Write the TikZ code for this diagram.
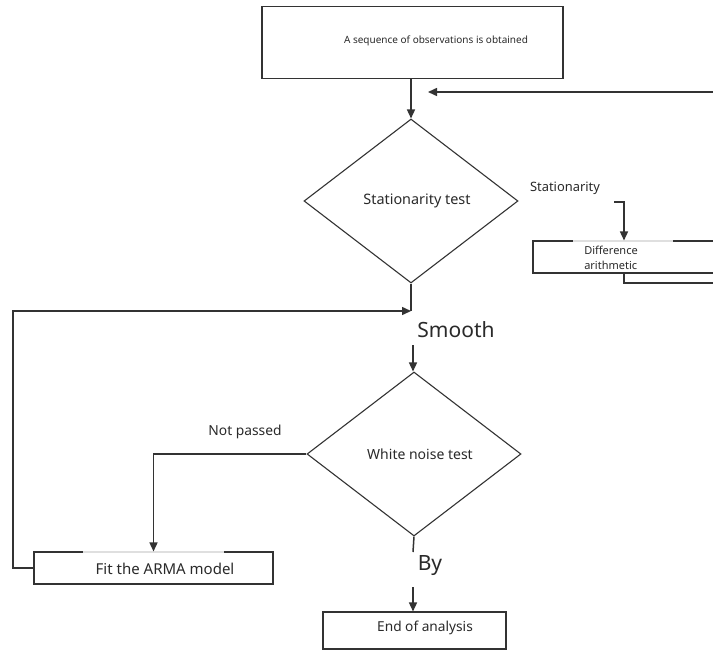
\documentclass[tikz,border=0pt]{standalone}
\usepackage{fontspec}
\setmainfont{Noto Sans}
\usetikzlibrary{arrows.meta,shapes.geometric}
\definecolor{ln}{HTML}{333333}
\definecolor{tx}{HTML}{2A2A2A}
\begin{document}
\begin{tikzpicture}[x=1pt,y=-1pt,
  box/.style={draw=ln,line width=1.1pt,rectangle,inner sep=0pt},
  dia/.style={draw=ln,line width=1.1pt,diamond,inner sep=0pt,minimum width=214pt,minimum height=164pt,text=tx},
  txt/.style={inner sep=0pt,text=tx},
  arr/.style={draw=ln,line width=1.5pt,-{Triangle[length=9pt,width=8pt]}},
  ln/.style={draw=ln,line width=1.5pt},
  faint/.style={draw=gray!25,line width=1.3pt}]
\useasboundingbox (0,0) rectangle (713,651);
\fill[white] (0,0) rectangle (713,651);

% nodes
\node[box,minimum width=301pt,minimum height=72pt] (top) at (412.5,42.5) {};
\node[txt,font=\fontsize{10}{12}\selectfont] (toptxt) at (436,41) {A sequence of observations is obtained};

\node[dia,font=\fontsize{14.4}{16}\selectfont] (d1) at (411,201) {\hspace*{12pt}Stationarity test};
\node[dia,font=\fontsize{14}{16}\selectfont] (d2) at (414,454) {\hspace*{12pt}White noise test};

\node[box,minimum width=182pt,minimum height=32pt] (diff) at (624,257) {};
\node[txt,font=\fontsize{11}{15.5}\selectfont,align=left] (difftxt) at (611,258) {Difference\\arithmetic};
\draw[faint] (573,241) -- (673,241);

\node[box,minimum width=239pt,minimum height=32pt] (fit) at (153.5,568) {};
\node[txt,font=\fontsize{15}{17}\selectfont] (fittxt) at (165,569) {Fit the ARMA model};
\draw[faint] (83,552) -- (224,552);

\node[box,minimum width=183pt,minimum height=37pt] (end) at (414.5,630.5) {};
\node[txt,font=\fontsize{13.7}{16}\selectfont] (endtxt) at (425,628) {End of analysis};

% labels
\node[txt,font=\fontsize{12.9}{15}\selectfont] (lstat) at (565,188) {Stationarity};
\node[txt,font=\fontsize{13.8}{16}\selectfont] (lnp) at (245,432) {Not passed};
\node[txt,font=\fontsize{21}{24}\selectfont] (lsmooth) at (456,330) {Smooth};
\node[txt,font=\fontsize{21}{24}\selectfont] (lby) at (430,566) {By};

% coordinates
\coordinate (fbR) at (716,92);
\coordinate (fbT) at (428,92);
\coordinate (j1) at (413,311);
\coordinate (j1a) at (411,311);
\coordinate (lc) at (13,311);
\coordinate (s1) at (413,345);
\coordinate (b1) at (413,552);
\coordinate (b2) at (413,587);
\coordinate (st1) at (614,202);
\coordinate (dR) at (716,283);

% connectors
\draw[arr] (top.south -| d1.north) -- (d1.north);
\draw[arr] (fbR) -- (fbT);
\draw[ln] (d1.south) -- (j1 -| d1.south);
\draw[arr] (fit.west) -| (lc) -- (j1a);
\draw[arr] (s1) -- (s1 |- d2.north);
\draw[arr] (d2.west) -| (fit.north);
\draw[ln] (d2.south) -- (b1);
\draw[arr] (b2) -- (b2 |- end.north);
\draw[arr] (st1) -| (diff.north);
\draw[ln] (diff.south) |- (dR);
\end{tikzpicture}
\end{document}
